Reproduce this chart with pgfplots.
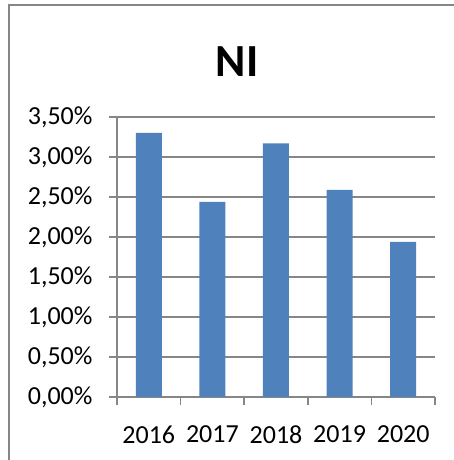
\documentclass[border=0pt]{standalone}
\usepackage{fontspec}
\setmainfont{Carlito}
\usepackage{pgfplots}
\pgfplotsset{compat=1.18}
\definecolor{barblue}{HTML}{4F81BD}
\definecolor{gridgray}{HTML}{868686}
\begin{document}
\begin{tikzpicture}[x=1pt,y=1pt]
\useasboundingbox (0,0) rectangle (454,460);
\draw[gridgray,line width=2pt] (9,0) -- (9,455) -- (454,455);
\node[font=\fontsize{46}{50}\bfseries\selectfont] at (237,398) {NI};
\begin{axis}[
  at={(117pt,63pt)}, anchor=south west,
  scale only axis, width=318pt, height=280pt,
  xmin=-0.5, xmax=4.5, ymin=0, ymax=3.5,
  axis lines*=left,
  axis line style={gridgray,line width=1.6pt,-},
  xtick={0,1,2,3,4},
  xticklabels={2016,2017,2018,2019,2020},
  major x tick style={draw=none},
  minor xtick={-0.5,0.5,1.5,2.5,3.5,4.5},
  minor tick length=8pt,
  minor x tick style={gridgray,line width=1.6pt},
  ytick={0,0.5,1,1.5,2,2.5,3,3.5},
  yticklabels={{0,00\%},{0,50\%},{1,00\%},{1,50\%},{2,00\%},{2,50\%},{3,00\%},{3,50\%}},
  tick align=outside,
  major tick length=8pt,
  major y tick style={gridgray,line width=1.6pt},
  ymajorgrids,
  grid style={gridgray,line width=1.6pt},
  ticklabel style={font=\fontsize{26}{30}\selectfont, text=black},
  yticklabel style={xshift=-13pt},
  xticklabel style={yshift=-17pt},
  clip=false,
]
\addplot[ybar, bar width=26pt, fill=barblue, draw=none] coordinates {
  (0,3.30) (1,2.44) (2,3.17) (3,2.59) (4,1.94)
};
\end{axis}
\end{tikzpicture}
\end{document}
